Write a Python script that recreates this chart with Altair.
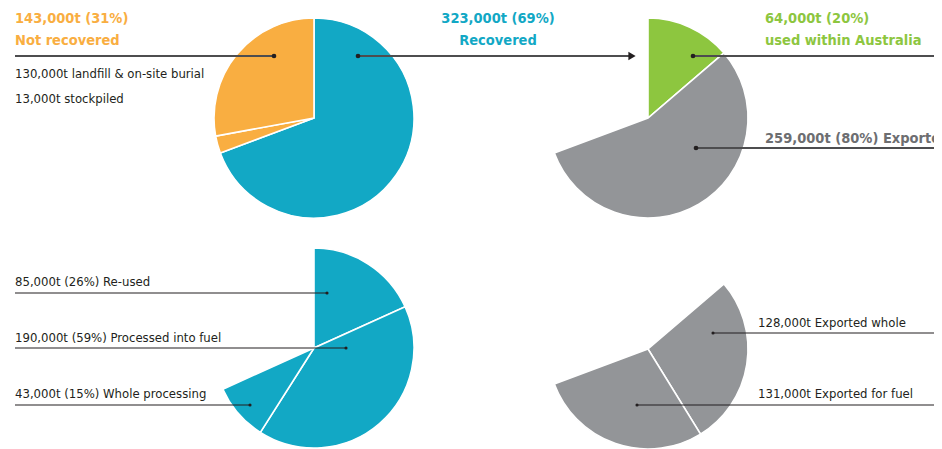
import math
import altair as alt
import pandas as pd

# ---------------- data ----------------
TOTAL = 466000  # all tyres, tonnes

p1_labels = ["Recovered", "Stockpiled", "Landfill & on-site burial"]
p1_values = [323000, 13000, 130000]
p1_colors = ["#12A8C5", "#F9AE41", "#F9AE41"]

p2_labels = ["Used within Australia", "Exported"]
p2_values = [64000, 259000]
p2_colors = ["#8DC63F", "#939598"]

p3_labels = ["Re-used", "Processed into fuel", "Whole processing"]
p3_values = [85000, 190000, 43000]
p3_colors = ["#12A8C5", "#12A8C5", "#12A8C5"]

p4_labels = ["Exported whole", "Exported for fuel"]
p4_values = [128000, 131000]
p4_colors = ["#939598", "#939598"]
p4_offset = p2_values[0]  # exports start where domestic use ends

title_texts = [
    "143,000t (31%)", "Not recovered",
    "323,000t (69%)", "Recovered",
    "64,000t (20%)", "used within Australia",
    "259,000t (80%) Exported",
]
detail_texts = [
    "130,000t landfill & on-site burial", "13,000t stockpiled",
    "85,000t (26%) Re-used", "190,000t (59%) Processed into fuel",
    "43,000t (15%) Whole processing",
    "128,000t Exported whole", "131,000t Exported for fuel",
]

# ---------------- helpers ----------------
OX, OY = 8, 8
W, H = 926, 441
R = 100
FONT = "DejaVu Sans Condensed"
LINE = "#4D4D4F"
DARK = "#231F20"

theta_scale = alt.Scale(domain=[0, TOTAL], range=[0, 2 * math.pi])


def pie_frame(labels, values, colors, offset=0):
    df = pd.DataFrame({"label": labels, "value": values, "color": colors})
    df["end"] = df["value"].cumsum() + offset
    df["start"] = df["end"] - df["value"]
    return df


def pie(df, cx, cy):
    return alt.Chart(df).mark_arc(radius=R, stroke="white", strokeWidth=1.6).encode(
        theta=alt.Theta("start:Q", scale=theta_scale),
        theta2="end:Q",
        color=alt.Color("color:N", scale=None, legend=None),
        x=alt.value(cx - OX),
        y=alt.value(cy - OY),
        tooltip=["label:N", "value:Q"],
    )


EMPTY = alt.Data(values=[{}])


def text(s, x, y, color=DARK, size=13, weight="normal", align="left"):
    return alt.Chart(EMPTY).mark_text(
        text=s, align=align, baseline="alphabetic", font=FONT,
        fontSize=size, fontWeight=weight, color=color,
    ).encode(x=alt.value(x - OX), y=alt.value(y - OY))


def rule(x1, x2, y, color=LINE, width=1.8):
    return alt.Chart(EMPTY).mark_rule(color=color, strokeWidth=width).encode(
        x=alt.value(x1 - OX), x2=alt.value(x2 - OX), y=alt.value(y - OY)
    )


def dot(x, y, size=22, color=DARK, shape="circle"):
    return alt.Chart(EMPTY).mark_point(
        filled=True, size=size, color=color, opacity=1, shape=shape
    ).encode(x=alt.value(x - OX), y=alt.value(y - OY))


ORANGE, BLUE, GREEN, GREYT = "#F9AE41", "#12A8C5", "#8DC63F", "#6D6E71"
TS = 14.5
EDGE = 940

layers = [
    pie(pie_frame(p1_labels, p1_values, p1_colors), 314, 118),
    pie(pie_frame(p2_labels, p2_values, p2_colors), 648, 118),
    pie(pie_frame(p3_labels, p3_values, p3_colors), 314, 348),
    pie(pie_frame(p4_labels, p4_values, p4_colors, p4_offset), 648, 349),
    # top leader lines
    rule(15, 274, 56),
    rule(358, 632, 56),
    rule(693, EDGE, 56),
    rule(696, EDGE, 148),
    # bottom leader lines
    rule(15, 327, 293, color=DARK, width=1.1),
    rule(15, 346, 348, color=DARK, width=1.1),
    rule(15, 250, 405, color=DARK, width=1.1),
    rule(713, EDGE, 333, color=DARK, width=1.1),
    rule(637, EDGE, 405, color=DARK, width=1.1),
    # dots
    dot(274, 56), dot(358, 56), dot(693, 56), dot(696, 148),
    dot(327, 293, 10), dot(346, 348, 10), dot(250, 405, 10),
    dot(713, 333, 10), dot(637, 405, 10),
    dot(632, 56, 70, shape="triangle-right"),
    # titles
    text(title_texts[0], 15, 23, ORANGE, TS, "bold"),
    text(title_texts[1], 15, 45, ORANGE, TS, "bold"),
    text(title_texts[2], 498, 23, BLUE, TS, "bold", "center"),
    text(title_texts[3], 498, 45, BLUE, TS, "bold", "center"),
    text(title_texts[4], 765, 23, GREEN, TS, "bold"),
    text(title_texts[5], 765, 45, GREEN, TS, "bold"),
    text(title_texts[6], 765, 143, GREYT, TS, "bold"),
    # details
    text(detail_texts[0], 15, 78),
    text(detail_texts[1], 15, 103),
    text(detail_texts[2], 15, 286),
    text(detail_texts[3], 15, 342),
    text(detail_texts[4], 15, 398),
    text(detail_texts[5], 758, 327),
    text(detail_texts[6], 758, 398),
]

chart = alt.layer(*layers).properties(
    width=W, height=H, padding=0, autosize=alt.AutoSizeParams(type="none"),
    background="white",
).configure_view(stroke=None)

chart.save("out.html", embed_options={"renderer": "svg", "actions": False})
